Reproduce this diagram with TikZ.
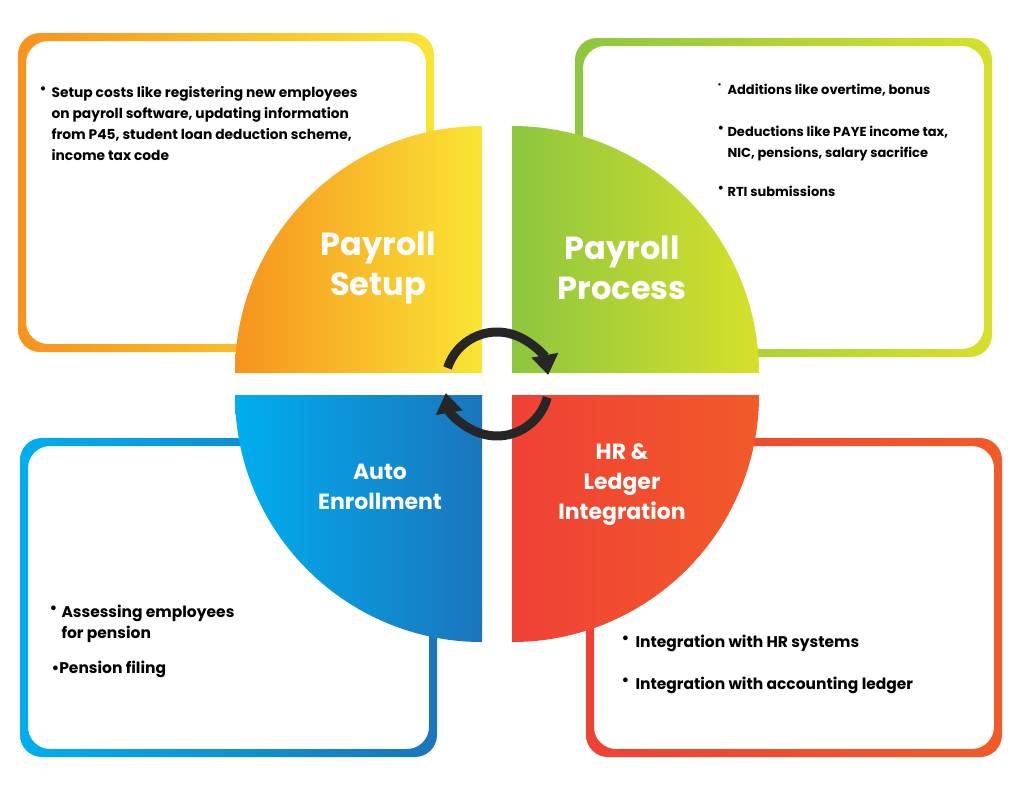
\documentclass[tikz,border=0pt]{standalone}
\usepackage{fontspec}
\setmainfont{Poppins}
\usetikzlibrary{arrows.meta}
\definecolor{or1}{HTML}{F7931E}\definecolor{ye1}{HTML}{F9E534}
\definecolor{gr1}{HTML}{8DC63F}\definecolor{gr2}{HTML}{D7E02A}
\definecolor{bl1}{HTML}{00AEEF}\definecolor{bl2}{HTML}{1B75BC}
\definecolor{rd1}{HTML}{EF4136}\definecolor{rd2}{HTML}{F15A29}
\begin{document}
\begin{tikzpicture}[x=1pt,y=-1pt,
  ttl/.style={text=white,font=\bfseries\fontsize{32}{40}\selectfont,align=center},
  sub/.style={text=white,font=\bfseries\fontsize{22}{30}\selectfont,align=center},
  bodyA/.style={anchor=north west,align=left,font=\bfseries\fontsize{13.8}{21}\selectfont},
  bodyT/.style={anchor=north west,align=left,font=\bfseries\fontsize{13}{21}\selectfont},
  bodyB/.style={anchor=north west,align=left,font=\bfseries\fontsize{15.5}{21}\selectfont}]
\useasboundingbox (0,0) rectangle (1024,801);
\fill[white] (0,0) rectangle (1024,801);
% boxes (gradient rings)
\shade[left color=or1,right color=ye1,even odd rule,rounded corners=22]
  (18,33) rectangle (434,352) (26,41) rectangle (426,344);
\shade[left color=gr1,right color=gr2,even odd rule,rounded corners=22]
  (575,38) rectangle (992,357) (583,46) rectangle (984,349);
\shade[left color=bl1,right color=bl2,even odd rule,rounded corners=22]
  (20,438) rectangle (437,757) (28,446) rectangle (429,749);
\shade[left color=rd1,right color=rd2,even odd rule,rounded corners=22]
  (586,438) rectangle (1002,757) (594,446) rectangle (994,749);
% quadrants
\shade[left color=or1,right color=ye1] (482,373) -- (235,373) arc[start angle=180,end angle=270,radius=247] -- cycle;
\shade[left color=gr1,right color=gr2] (512,373) -- (512,126) arc[start angle=270,end angle=360,radius=247] -- cycle;
\shade[left color=bl1,right color=bl2] (482,395) -- (235,395) arc[start angle=180,end angle=90,radius=247] -- cycle;
\shade[left color=rd1,right color=rd2] (512,395) -- (512,642) arc[start angle=90,end angle=0,radius=247] -- cycle;
% titles
\node[ttl] (t1) at (378,268) {Payroll\\Setup};
\node[ttl] (t2) at (622,268) {Payroll\\Process};
\node[sub] (t3) at (380,487) {Auto\\Enrollment};
\node[sub] (t4) at (622,485) {HR \&\\Ledger\\Integration};
% cycle arrows
\coordinate (c) at (497,384);
\draw[line width=9,-{Triangle[length=20,width=26]},color=black!85] ([shift={(-162:52)}]c) arc[start angle=-162,end angle=-10,radius=52];
\draw[line width=9,-{Triangle[length=20,width=26]},color=black!85] ([shift={(15:52)}]c) arc[start angle=15,end angle=170,radius=52];
% texts
\node[bodyA] (a0) at (36,83) {•};
\node[bodyA] (a1) at (48,83) {Setup costs like registering new employees\\on payroll software, updating information\\from P45, student loan deduction scheme,\\income tax code};
\node[bodyT] (b0) at (714,80) {\fontsize{8}{10}\selectfont•};
\node[bodyT] (b1) at (724,81) {Additions like overtime, bonus};
\node[bodyT] (b2) at (714,123) {•};
\node[bodyT] (b3) at (724,123) {Deductions like PAYE income tax,\\NIC, pensions, salary sacrifice};
\node[bodyT] (b4) at (714,183) {•};
\node[bodyT] (b5) at (724,183) {RTI submissions};
\node[bodyB] (c0) at (46,602) {•};
\node[bodyB] (c1) at (58,602) {Assessing employees\\for pension};
\node[bodyB] (c2) at (48,658) {•Pension filing};
\node[bodyB] (d0) at (618,632) {•};
\node[bodyB] (d1) at (632,632) {Integration with HR systems};
\node[bodyB] (d2) at (618,674) {•};
\node[bodyB] (d3) at (632,674) {Integration with accounting ledger};
\end{tikzpicture}
\end{document}
